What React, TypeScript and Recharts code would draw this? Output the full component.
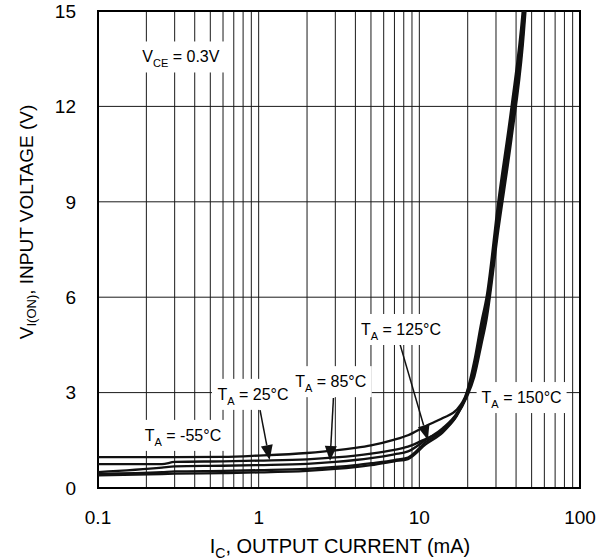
import {
  LineChart,
  Line,
  XAxis,
  YAxis,
  CartesianGrid,
  ReferenceDot,
  ReferenceLine,
  ReferenceArea,
  Label,
} from "recharts";

// V_I(ON) vs I_C, V_CE = 0.3V, one curve per ambient temperature
const currents = [0.1, 0.25, 0.3, 0.6, 1, 2, 3, 4, 5, 7, 8.5, 11, 14, 17, 19.7, 22, 24.3, 26.2, 31, 37.5, 44, 48];
const vMinus55 = [0.97, 0.97, 0.97, 0.98, 1.02, 1.1, 1.18, 1.26, 1.34, 1.52, 1.66, 1.95, 2.2, 2.45, 3.0, 4.0, 5.2, 6.0, 9.0, 12.0, 15.0, 17.6];
const v25 = [0.75, 0.75, 0.82, 0.84, 0.86, 0.9, 0.96, 1.02, 1.08, 1.2, 1.3, 1.55, 1.82, 2.25, 2.95, 3.85, 5.0, 5.8, 8.75, 11.7, 14.7, 17.3];
const v85 = [0.5, 0.64, 0.68, 0.7, 0.72, 0.76, 0.82, 0.88, 0.94, 1.06, 1.15, 1.52, 1.88, 2.33, 2.92, 3.7, 4.8, 5.6, 8.5, 11.45, 14.4, 17.0];
const v125 = [0.45, 0.5, 0.52, 0.54, 0.56, 0.6, 0.66, 0.72, 0.78, 0.88, 0.96, 1.45, 1.8, 2.3, 2.9, 3.6, 4.65, 5.45, 8.3, 11.2, 14.15, 16.7];
const v150 = [0.4, 0.44, 0.45, 0.47, 0.49, 0.54, 0.6, 0.66, 0.72, 0.84, 0.91, 1.38, 1.75, 2.25, 2.85, 3.5, 4.5, 5.3, 8.1, 11.0, 13.9, 16.4];

const xTicks = [
  0.1, 0.2, 0.3, 0.4, 0.5, 0.6, 0.7, 0.8, 0.9,
  1, 2, 3, 4, 5, 6, 7, 8, 9,
  10, 20, 30, 40, 50, 60, 70, 80, 90, 100,
];
const xLabels = ["0.1", "1", "10", "100"];
const yTicks = [0, 3, 6, 9, 12, 15];

// annotation text: [main, subscript, rest], anchor in data units
const tagText = [
  ["V", "CE", " = 0.3V"],
  ["T", "A", " = -55°C"],
  ["T", "A", " = 25°C"],
  ["T", "A", " = 85°C"],
  ["T", "A", " = 125°C"],
  ["T", "A", " = 150°C"],
];
const tagI = [0.328, 0.338, 0.922, 2.81, 7.69, 43.3];
const tagV = [13.57, 1.67, 2.96, 3.36, 5.0, 2.86];
const tagW = [94, 86, 82, 82, 90, 90];

// arrows: from label to curve
const arrowFromI = [1.02, 2.92, 7.6];
const arrowFromV = [2.45, 2.83, 4.5];
const arrowToI = [1.17, 2.78, 11.3];
const arrowToV = [0.88, 0.85, 1.51];

const FONT = "'Liberation Sans', Arial, Helvetica, sans-serif";

const series = [vMinus55, v25, v85, v125, v150].map((vals) =>
  currents.map((i, k) => ({ i, v: vals[k] }))
);

function Tag({ cx, cy, idx }: { cx: number; cy: number; idx: number }) {
  const [main, sub, rest] = tagText[idx];
  const w = tagW[idx];
  return (
    <g>
      <rect x={cx - w / 2} y={cy - 15} width={w} height={31} fill="#fff" />
      <text
        x={cx}
        y={cy + 6}
        textAnchor="middle"
        fontFamily={FONT}
        fontSize={16}
        fill="#000"
      >
        <tspan>{main}</tspan>
        <tspan fontSize={11} dy={5}>
          {sub}
        </tspan>
        <tspan dy={-5}>{rest}</tspan>
      </text>
    </g>
  );
}

function Arrow(props: any) {
  const { x1, y1, x2, y2 } = props;
  const dx = x2 - x1;
  const dy = y2 - y1;
  const len = Math.sqrt(dx * dx + dy * dy) || 1;
  const ux = dx / len;
  const uy = dy / len;
  const hl = 15;
  const hw = 6;
  const bx = x2 - ux * hl;
  const by = y2 - uy * hl;
  const pts = `${x2},${y2} ${bx - uy * hw},${by + ux * hw} ${bx + uy * hw},${by - ux * hw}`;
  return (
    <g>
      <line x1={x1} y1={y1} x2={bx} y2={by} stroke="#111" strokeWidth={1.5} />
      <polygon points={pts} fill="#111" />
    </g>
  );
}

const YTitle = () => (
  <text
    x={26}
    y={222}
    transform="rotate(-90 26 222)"
    textAnchor="middle"
    dominantBaseline="central"
    fontFamily={FONT}
    fontSize={19}
    fill="#000"
  >
    <tspan>V</tspan>
    <tspan fontSize={13} dy={5}>
      I(ON)
    </tspan>
    <tspan dy={-5}>, INPUT VOLTAGE (V)</tspan>
  </text>
);

const XTitle = () => (
  <text x={340} y={553} textAnchor="middle" fontFamily={FONT} fontSize={20} fill="#000">
    <tspan>I</tspan>
    <tspan fontSize={14} dy={5}>
      C
    </tspan>
    <tspan dy={-5}>, OUTPUT CURRENT (mA)</tspan>
  </text>
);

export default function App() {
  return (
    <div style={{ position: "absolute", left: 0, top: 0, background: "#fff" }}>
      <LineChart width={598} height={560} margin={{ top: 11, right: 18, bottom: 0, left: 0 }}>
        <CartesianGrid stroke="#1a1a1a" strokeWidth={1} />
        <XAxis
          dataKey="i"
          type="number"
          scale="log"
          domain={[0.1, 100]}
          allowDataOverflow
          ticks={xTicks}
          interval={0}
          tickFormatter={(t: number) => {
            const s = String(t);
            return xLabels.includes(s) ? s : "";
          }}
          height={72}
          tickSize={0}
          tickMargin={23}
          axisLine={false}
          tick={{ fill: "#000", fontSize: 19, fontFamily: FONT }}
        >
          <Label content={XTitle} />
        </XAxis>
        <YAxis
          type="number"
          domain={[0, 15]}
          allowDataOverflow
          ticks={yTicks}
          interval={0}
          width={98}
          tickSize={0}
          tickMargin={22}
          axisLine={false}
          tick={{ fill: "#000", fontSize: 19, fontFamily: FONT }}
        >
          <Label content={YTitle} />
        </YAxis>
        <ReferenceArea x1={0.1} x2={100} y1={0} y2={15} fill="none" stroke="#000" strokeWidth={2} />
        {series.map((d, k) => (
          <Line
            key={k}
            data={d}
            dataKey="v"
            type="monotone"
            stroke="#111"
            strokeWidth={2.3}
            dot={false}
            isAnimationActive={false}
          />
        ))}
        {tagText.map((_, k) => (
          <ReferenceDot
            key={`tag-${k}`}
            x={tagI[k]}
            y={tagV[k]}
            r={0}
            shape={(p: any) => <Tag cx={p.cx} cy={p.cy} idx={k} />}
          />
        ))}
        {arrowFromI.map((_, k) => (
          <ReferenceLine
            key={`arrow-${k}`}
            segment={[
              { x: arrowFromI[k], y: arrowFromV[k] },
              { x: arrowToI[k], y: arrowToV[k] },
            ]}
            shape={Arrow}
          />
        ))}
      </LineChart>
    </div>
  );
}
